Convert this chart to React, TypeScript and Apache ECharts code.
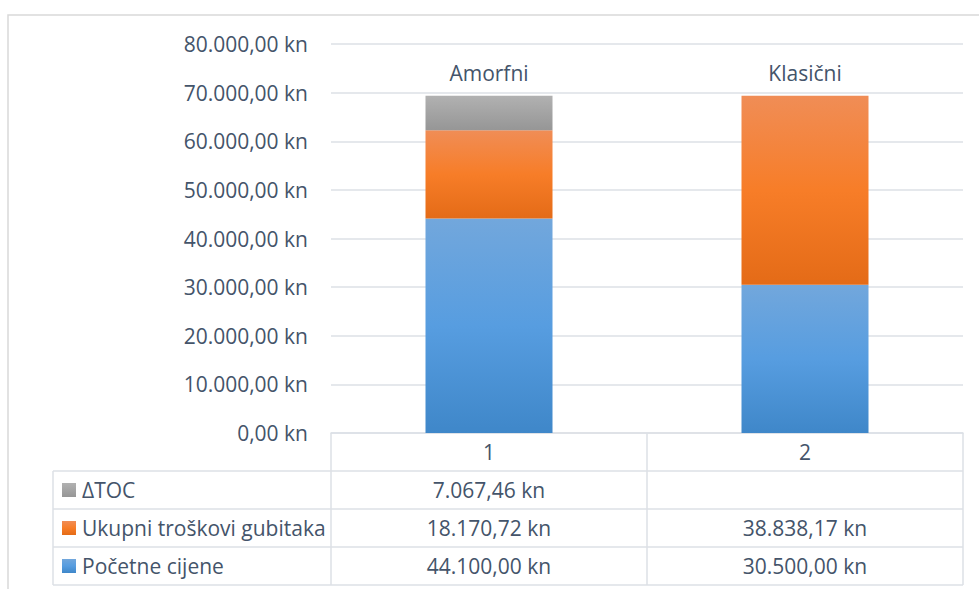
import React, { useEffect, useRef } from "react";
import * as echarts from "echarts";

const categories = ["1", "2"];
const topLabels = ["Amorfni", "Klasični"];
const seriesNames = ["Početne cijene", "Ukupni troškovi gubitaka", "ΔTOC"];
const pocetne = [44100.0, 30500.0];
const ukupni = [18170.72, 38838.17];
const deltaToc: (number | null)[] = [7067.46, null];
const yTicks = { min: 0, max: 80000, interval: 10000 };

const FONT = "'Open Sans', 'Noto Sans', sans-serif";
const TXT = "#44546a";
const LINE = "#dce0e6";

function fmt(v: number | null): string {
  if (v === null || v === undefined) return "";
  const s = v.toFixed(2);
  const [i, d] = s.split(".");
  return i.replace(/\B(?=(\d{3})+(?!\d))/g, ".") + "," + d + " kn";
}

const grad = (stops: [number, string][]) =>
  new echarts.graphic.LinearGradient(0, 0, 0, 1, stops.map(([offset, color]) => ({ offset, color })));

export default function App() {
  const ref = useRef<HTMLDivElement>(null);
  useEffect(() => {
    document.body.style.margin = "0";
    const chart = echarts.init(ref.current!, null, { renderer: "svg" });
    const blue = grad([[0, "#72a7dc"], [0.5, "#579de0"], [1, "#3f87c9"]]);
    const orange = grad([[0, "#f08d56"], [0.5, "#f77d28"], [1, "#e46b17"]]);
    const gray = grad([[0, "#b1b1b1"], [1, "#969696"]]);
    const totals = categories.map((_, i) => (pocetne[i] || 0) + (ukupni[i] || 0) + (deltaToc[i] || 0));
    chart.setOption({
      animation: false,
      textStyle: { fontFamily: FONT },
      grid: { left: 331, right: 16, top: 44, bottom: 156 },
      legend: {
        orient: "vertical",
        left: 62,
        top: 479,
        padding: 0,
        itemWidth: 14,
        itemHeight: 14,
        itemGap: 16,
        icon: "rect",
        data: [seriesNames[2], seriesNames[1], seriesNames[0]],
        textStyle: { fontFamily: FONT, fontSize: 21, lineHeight: 22, color: TXT, padding: [0, 0, 0, 1] },
        selectedMode: false,
      },
      xAxis: {
        type: "category",
        data: categories,
        axisLine: { show: true, lineStyle: { color: LINE, width: 1.5 } },
        axisTick: { show: false },
        axisLabel: { color: TXT, fontSize: 21, lineHeight: 22, margin: 8, fontFamily: FONT },
      },
      yAxis: {
        type: "value",
        min: yTicks.min,
        max: yTicks.max,
        interval: yTicks.interval,
        axisLine: { show: false },
        axisTick: { show: false },
        axisLabel: { color: TXT, fontSize: 21, margin: 23, fontFamily: FONT, formatter: (v: number) => fmt(v) },
        splitLine: { lineStyle: { color: LINE, width: 1.5 } },
      },
      series: [
        { name: seriesNames[0], type: "bar", stack: "s", barWidth: 127, data: pocetne, itemStyle: { color: blue } },
        { name: seriesNames[1], type: "bar", stack: "s", barWidth: 127, data: ukupni, itemStyle: { color: orange } },
        { name: seriesNames[2], type: "bar", stack: "s", barWidth: 127, data: deltaToc, itemStyle: { color: gray } },
        {
          name: "totals",
          type: "scatter",
          symbolSize: 0,
          data: totals,
          silent: true,
          itemStyle: { opacity: 1 },
          label: {
            show: true,
            position: "top",
            distance: 12,
            fontSize: 21,
            lineHeight: 22,
            color: TXT,
            opacity: 1,
            fontFamily: FONT,
            formatter: (p: any) => topLabels[p.dataIndex],
          },
        },
      ],
    });

    // data table
    const rows = [deltaToc, ukupni, pocetne];
    const rowY = [471, 509, 547, 585];
    const colX = [331, 647, 963];
    const graphics: any[] = [];
    graphics.push({
      type: "rect",
      shape: { x: 8, y: 15, width: 1200, height: 1200 },
      style: { fill: "none", stroke: "#d9d9d9", lineWidth: 1.5 },
      silent: true,
      z: -10,
    });
    rowY.forEach((y) => {
      graphics.push({ type: "line", shape: { x1: 53, y1: y, x2: 963, y2: y }, style: { stroke: LINE, lineWidth: 1.5 }, silent: true });
    });
    graphics.push({ type: "line", shape: { x1: 53, y1: 471, x2: 53, y2: 585 }, style: { stroke: LINE, lineWidth: 1.5 }, silent: true });
    colX.forEach((x) => {
      graphics.push({ type: "line", shape: { x1: x, y1: 433, x2: x, y2: 585 }, style: { stroke: LINE, lineWidth: 1.5 }, silent: true });
    });
    rows.forEach((vals, r) => {
      categories.forEach((c, ci) => {
        const px = chart.convertToPixel({ xAxisIndex: 0 }, c) as number;
        graphics.push({
          type: "text",
          x: px,
          y: (rowY[r] + rowY[r + 1]) / 2,
          style: {
            text: fmt(vals[ci] as number | null),
            fill: TXT,
            fontSize: 21,
            fontFamily: FONT,
            align: "center",
            verticalAlign: "middle",
          },
          silent: true,
        });
      });
    });
    chart.setOption({ graphic: graphics });
    return () => chart.dispose();
  }, []);
  return <div ref={ref} style={{ width: 979, height: 589 }} />;
}
